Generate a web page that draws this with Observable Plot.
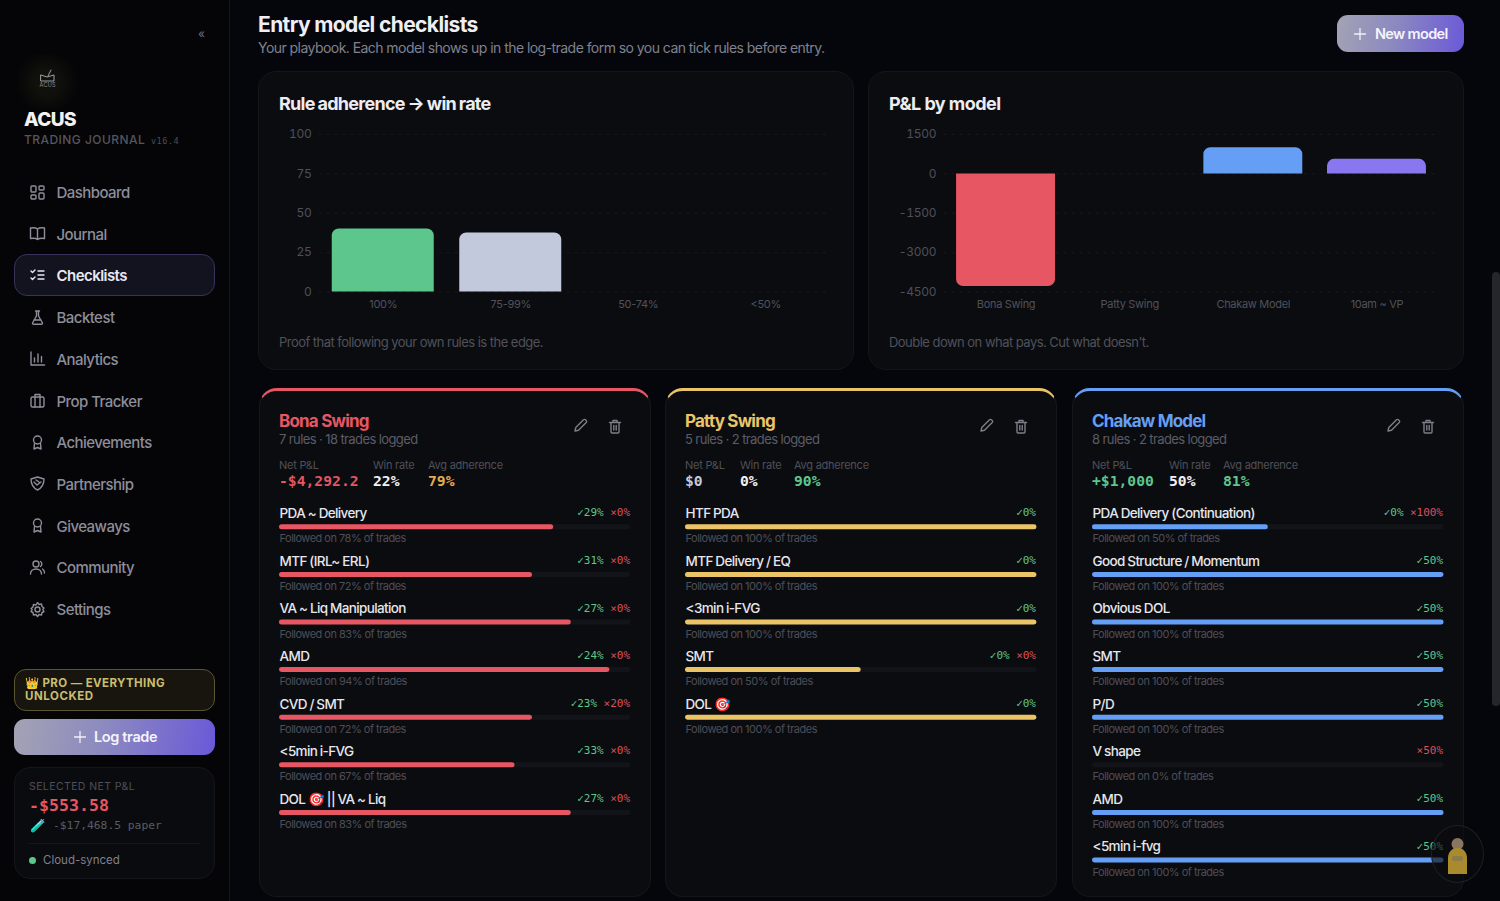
<!DOCTYPE html>
<html><head><meta charset="utf-8">
<script src="https://cdn.jsdelivr.net/npm/d3@7"></script>
<script src="https://cdn.jsdelivr.net/npm/@observablehq/plot@0.6"></script>
<style>
html,body{margin:0;padding:0;width:1500px;height:901px;overflow:hidden;background:#05060c;font-family:Inter,sans-serif;color:#e8e8ee}
.a{position:absolute;white-space:nowrap;line-height:1}
.box{position:absolute;box-sizing:border-box}
svg.ic{position:absolute;fill:none;stroke:currentColor;stroke-width:1.4;stroke-linecap:round;stroke-linejoin:round}
#main{position:absolute;left:0;top:0;width:1500px;height:901px;overflow:hidden}
.plot{position:absolute}
.ruleName text{letter-spacing:-.62px;word-spacing:-.4px}
.followedNote text{letter-spacing:-.5px}
.tight text{letter-spacing:-.3px}
</style></head><body>
<div id="main"></div>
<script>
// ---------- chart data ----------
const adherenceBuckets = ["100%", "75-99%", "50-74%", "<50%"];
const adherenceWinRate = [40, 37.5, 0, 0];
const adherenceColors = ["#5dc68c", "#c3c9dc", "#5dc68c", "#c3c9dc"];
const adherenceTicks = [0, 25, 50, 75, 100];

const modelNames = ["Bona Swing", "Patty Swing", "Chakaw Model", "10am ~ VP"];
const modelPnl = [-4292.2, 0, 1000, 553];
const modelColors = ["#e75663", "#ecc468", "#659ef5", "#8878f0"];
const pnlTicks = [-4500, -3000, -1500, 0, 1500];

const bonaRules = ["PDA ~ Delivery", "MTF (IRL~ ERL)", "VA ~ Liq Manipulation", "AMD", "CVD / SMT", "<5min i-FVG", "DOL 🎯 || VA ~ Liq"];
const bonaFollowed = [78, 72, 83, 94, 72, 67, 83];
const bonaWins = [29, 31, 27, 24, 23, 33, 27];
const bonaLosses = [0, 0, 0, 0, 20, 0, 0];

const pattyRules = ["HTF PDA", "MTF Delivery / EQ", "<3min i-FVG", "SMT", "DOL 🎯"];
const pattyFollowed = [100, 100, 100, 50, 100];
const pattyWins = [0, 0, 0, 0, 0];
const pattyLosses = [null, null, null, 0, null];

const chakawRules = ["PDA Delivery (Continuation)", "Good Structure / Momentum", "Obvious DOL", "SMT", "P/D", "V shape", "AMD", "<5min i-fvg"];
const chakawFollowed = [50, 100, 100, 100, 100, 0, 100, 100];
const chakawWins = [0, 50, 50, 50, 50, null, 50, 50];
const chakawLosses = [100, null, null, null, null, 50, null, null];

const navItems = ["Dashboard", "Journal", "Checklists", "Backtest", "Analytics", "Prop Tracker", "Achievements", "Partnership", "Giveaways", "Community", "Settings"];

// ---------- helpers ----------
const main = document.getElementById("main");
function add(html){const t=document.createElement("template");t.innerHTML=html.trim();const n=t.content.firstChild;main.appendChild(n);return n;}
function text(x,yc,s,style=""){return add(`<div class="a" style="left:${x}px;top:${yc}px;transform:translateY(-50%);${style}">${s}</div>`);}
function place(svg,x,y){svg.classList.add("plot");svg.style.left=x+"px";svg.style.top=y+"px";main.appendChild(svg);}
const grad="linear-gradient(100deg,#a3a3b4 0%,#8c89c0 45%,#6a59d8 100%)";
const plusIcon=(x,y)=>add(`<svg class="ic" style="left:${x}px;top:${y}px;color:#f0f0f8;stroke-width:1.3" width="12" height="12" viewBox="0 0 12 12"><path d="M6 .5v11M.5 6h11"/></svg>`);

// backdrop
add(`<div class="box" style="left:0;top:0;width:230px;height:901px;background:#050507;border-right:1px solid #15161c"></div>`);
add(`<div class="box" style="left:1492px;top:272px;width:8px;height:434px;background:#25262c;border-radius:4px"></div>`);

// ---------- sidebar ----------
text(198,34,"«","color:#6d6d78;font-size:12px");
add(`<div class="box" style="left:16px;top:54px;width:62px;height:56px;border-radius:16px;background:radial-gradient(circle,#11110c 25%,rgba(5,5,7,0) 75%)"></div>`);
add(`<svg class="ic" style="left:39px;top:69px;color:#a0a0a4;stroke-width:1" width="17" height="14" viewBox="0 0 17 14"><path d="M2 6l6 2 7-2v6H2zM9 7l3-6"/></svg>`);
text(39.5,86,"ACUS","font-size:5.5px;color:#8f8f94;letter-spacing:.3px");
text(24,119,"ACUS","font-size:19px;font-weight:800;color:#f2f2f2;letter-spacing:-.6px");
text(24,140,"TRADING JOURNAL","font-size:12px;font-weight:500;color:#55565e;letter-spacing:.45px");
text(151,141,"v16.4","font-size:8.5px;color:#4d4e56;font-family:'DejaVu Sans Mono';letter-spacing:.5px");

add(`<div class="box" style="left:14px;top:254px;width:201px;height:42px;border-radius:13px;background:#13121f;border:1px solid #37335c"></div>`);
const navY=[192,233.5,275,317,358.5,400.5,442,483.5,525.5,567,609];
const navIcons=[
'<rect x="2" y="2" width="5" height="6" rx="1"/><rect x="10" y="2" width="5" height="4" rx="1"/><rect x="10" y="9" width="5" height="6" rx="1"/><rect x="2" y="11" width="5" height="4" rx="1"/>',
'<path d="M8.5 4C7 2.8 4 2.5 1.5 3v10.5c2.5-.5 5.5-.2 7 1 1.5-1.2 4.5-1.5 7-1V3c-2.5-.5-5.5-.2-7 1zM8.500 4v10.500"/>',
'<path d="M2 4l1.500 1.500L6 3M2 11l1.500 1.500L6 10M9 4h6M9 8h6M9 12h6"/>',
'<path d="M6.500 2h4M7.500 2v5L3.500 14a1 1 0 0 0 1 1.200h8a1 1 0 0 0 1-1.200L9.500 7V2M5 11h7"/>',
'<path d="M2 2v13h13.500M5.500 12V8M9 12V4M12.500 12V6.500"/>',
'<rect x="2" y="5" width="13" height="10" rx="1.500"/><path d="M6 5V2.500h5V5M6 5v10M11 5v10"/>',
'<circle cx="8.500" cy="6" r="4"/><path d="M5.500 9.500L5 15l3.500-1.500L12 15l-.5-5.500"/>',
'<path d="M2 4l6.500-2L15 4c0 6-2.500 9-6.500 11C4.500 13 2 10 2 4zM5 7l3 3 4-3M7 5l3 2"/>',
'<circle cx="8.500" cy="6" r="4"/><path d="M5.500 9.500L5 15l3.500-1.500L12 15l-.5-5.500"/>',
'<circle cx="7" cy="5" r="3"/><path d="M1.500 15c0-3 2.500-5 5.500-5s5.500 2 5.500 5M11.500 2.500a3 3 0 0 1 0 5M13.500 10c1.300.8 2 2.500 2 4"/>',
'<circle cx="8.500" cy="8.500" r="2.500"/><path d="M8.500 1.500l1.500 2 2.500-.5.500 2.500 2 1.500-1.200 1.500 1.200 2-2 1-.5 2.500-2.500-.5-1.500 2-1.500-2-2.500.5-.5-2.500-2-1 1.200-2L2 7.500 4 6l.5-2.500L7 4z"/>'
];
navItems.forEach((n,i)=>{
  const on=i===2, c=on?"#e9e9f2":"#8e8e9b";
  text(56.5,navY[i],n,`font-size:15px;font-weight:${on?600:500};color:${c};letter-spacing:-.55px`);
  add(`<svg class="ic" style="left:29px;top:${navY[i]-8.5}px;color:${c}" width="17" height="17" viewBox="0 0 17 17">${navIcons[i]}</svg>`);
});

add(`<div class="box" style="left:14px;top:669px;width:201px;height:42px;border-radius:12px;background:#17150e;border:1px solid #5b5531"></div>`);
text(25,683.5,"👑 PRO — EVERYTHING","font-size:11.500px;font-weight:700;color:#c9bd70;letter-spacing:.4px");
text(25,696.5,"UNLOCKED","font-size:11.500px;font-weight:700;color:#c9bd70;letter-spacing:.55px");
add(`<div class="box" style="left:14px;top:719px;width:201px;height:36px;border-radius:11px;background:${grad}"></div>`);
plusIcon(74,731);
text(94,737,"Log trade","font-size:14.500px;font-weight:600;color:#f4f4fa;letter-spacing:-.35px");
add(`<div class="box" style="left:14px;top:767px;width:201px;height:112px;border-radius:16px;background:#0a0b0e;border:1px solid #15161b"></div>`);
text(29,787,"SELECTED NET P&amp;L","font-size:10.500px;color:#4f5058;letter-spacing:.4px");
text(29,806,"-$553.58","font-size:16.600px;font-weight:700;color:#e55562;font-family:'DejaVu Sans Mono'");
text(30,825,"🧪","font-size:13px;color:#6cc070");
text(53,826,"-$17,468.5 paper","font-size:11.300px;color:#5a5b64;font-family:'DejaVu Sans Mono'");
add(`<div class="box" style="left:29px;top:843px;width:171px;height:1px;background:#15161b"></div>`);
add(`<div class="box" style="left:29px;top:857px;width:7px;height:7px;border-radius:50%;background:#5dc68c"></div>`);
text(43,860.5,"Cloud-synced","font-size:11.500px;color:#80808c");

// ---------- header ----------
text(258,24,"Entry model checklists","font-size:21px;font-weight:700;color:#eeeef3;letter-spacing:-.62px");
text(258,47.5,"Your playbook. Each model shows up in the log-trade form so you can tick rules before entry.","font-size:14px;color:#80818c;letter-spacing:-.55px");
add(`<div class="box" style="left:1337px;top:15px;width:127px;height:37px;border-radius:11px;background:${grad}"></div>`);
plusIcon(1354,27.5);
text(1375,33.500,"New model","font-size:14.500px;font-weight:600;color:#f4f4fa;letter-spacing:-.65px");

// ---------- top chart cards ----------
const cardStyle="background:#0b0c10;border:1px solid #15161c;border-radius:18px";
add(`<div class="box" style="left:258px;top:71px;width:596px;height:299px;${cardStyle}"></div>`);
add(`<div class="box" style="left:868px;top:71px;width:596px;height:299px;${cardStyle}"></div>`);
text(279,104,"Rule adherence → win rate","font-size:18px;font-weight:700;color:#ececf2;letter-spacing:-.72px;word-spacing:-.8px");
text(889,104,"P&amp;L by model","font-size:18px;font-weight:700;color:#ececf2;letter-spacing:-.55px");
text(279,342,"Proof that following your own rules is the edge.","font-size:13px;color:#50515a;letter-spacing:-.53px");
text(889,342,"Double down on what pays. Cut what doesn't.","font-size:13px;color:#50515a;letter-spacing:-.53px");

function barChart(cats,vals,cols,ticks,domain,marginLeft,marginRight){
  const rows=cats.map((c,i)=>({c,v:vals[i]}));
  const pos=rows.filter(d=>d.v>0), neg=rows.filter(d=>d.v<0);
  return Plot.plot({
    width:596,height:200,marginLeft,marginRight,marginTop:14,marginBottom:28.5,
    style:{background:"transparent",fontFamily:"Inter,sans-serif"},
    x:{domain:cats,paddingInner:.2,paddingOuter:.1,round:false,label:null},
    y:{domain,ticks:ticks,label:null},
    color:{domain:cats,range:cols},
    marks:[
      Plot.ruleY(ticks,{stroke:"#17181d",strokeDasharray:"3,5",strokeWidth:1}),
      Plot.axisY({ticks,tickSize:0,tickPadding:8,fontSize:12,color:"#4e4f58",stroke:"none",label:null,tickFormat:d=>String(d),className:"tight"}),
      Plot.axisX({tickSize:0,tickPadding:8,fontSize:11,color:"#50515a",stroke:"none",label:null,className:"tight"}),
      Plot.barY(pos,{x:"c",y1:0,y2:"v",fill:"c",rx1y1:7,rx2y1:7}),
      Plot.barY(neg,{x:"c",y1:0,y2:"v",fill:"c",rx1y2:7,rx2y2:7})
    ]
  });
}
place(barChart(adherenceBuckets,adherenceWinRate,adherenceColors,adherenceTicks,[0,100],61,25),258,120);
place(barChart(modelNames,modelPnl,modelColors,pnlTicks,[-4500,1500],75.7,25.7),868,120);

// ---------- model cards ----------
function card(o){
  const L=o.left,W=392;
  add(`<div class="box" style="left:${L}px;top:388px;width:${W}px;height:509px;background:#0b0c10;border:1px solid #15161c;border-top:3px solid ${o.color};border-radius:18px"></div>`);
  const x=L+20;
  text(x,421,o.name,`font-size:17px;font-weight:700;color:${o.color};letter-spacing:-.8px`);
  text(x,439,o.sub,"font-size:13px;color:#5b5c66;letter-spacing:-.6px");
  o.stats.forEach(s=>{
    text(L+s.dx,465,s.label,"font-size:11px;color:#4f5058;letter-spacing:-.25px");
    text(L+s.dx,481,s.value,`font-size:14.700px;font-weight:700;color:${s.color};font-family:'DejaVu Sans Mono'`);
  });
  add(`<svg class="ic" style="left:${L+314}px;top:418px;color:#7d7e88" width="15" height="15" viewBox="0 0 15 15"><path d="M2 13l.8-3.500L10.500 1.800a1.300 1.300 0 0 1 2 0l.7.7a1.300 1.300 0 0 1 0 2L5.500 12.200z"/></svg>`);
  add(`<svg class="ic" style="left:${L+349}px;top:418.500px;color:#7d7e88" width="14" height="15" viewBox="0 0 14 15"><path d="M1.500 3.500h11M5 3.500V1.500h4v2M3 3.500V13a1 1 0 0 0 1 1h6a1 1 0 0 0 1-1V3.500M5.800 6.500v4.500M8.200 6.500v4.500"/></svg>`);
  const rows=o.rules.map((r,i)=>({r,f:o.followed[i],w:o.wins[i],l:o.losses[i]}));
  const n=rows.length, lossLabel=d=>`×${d.l}%`, winLabel=d=>`✓${d.w}%`;
  const mono={fontFamily:"DejaVu Sans Mono",fontSize:11,fontWeight:500,textAnchor:"end"};
  const plot=Plot.plot({
    width:352,height:n*47.6,margin:0,axis:null,
    style:{background:"transparent",fontFamily:"Inter,sans-serif",overflow:"visible"},
    x:{domain:[0,100],range:[0,351.5]},
    y:{type:"band",domain:o.rules,range:[0,n*47.6],paddingInner:.895,paddingOuter:.4475,round:false},
    marks:[
      Plot.barX(rows,{x1:()=>0,x2:()=>100,y:"r",fill:"#131419",r:2.5}),
      Plot.barX(rows.filter(d=>d.f>0),{x1:()=>0,x2:"f",y:"r",fill:o.color,r:2.5}),
      Plot.text(rows,{x:()=>0,y:"r",text:"r",dy:-13.5,textAnchor:"start",fill:"#e6e6ec",fontSize:13.5,fontWeight:500,className:"ruleName"}),
      Plot.text(rows,{x:()=>0,y:"r",text:d=>`Followed on ${d.f}% of trades`,dy:11.500,textAnchor:"start",fill:"#4d4e58",fontSize:11,className:"followedNote"}),
      Plot.text(rows.filter(d=>d.l!==null),{x:()=>100,y:"r",text:lossLabel,dy:-14.500,dx:-1,fill:"#d9505e",...mono}),
      ...rows.filter(d=>d.w!==null).map(d=>Plot.text([d],{x:()=>100,y:"r",text:winLabel,dy:-14.500,dx:d.l===null?-1:-(lossLabel(d).length*6.600+7.500),fill:"#5dc68c",...mono}))
    ]
  });
  place(plot,x,502.700);
}
card({left:259,name:"Bona Swing",color:"#e75663",sub:"7 rules · 18 trades logged",rules:bonaRules,followed:bonaFollowed,wins:bonaWins,losses:bonaLosses,
  stats:[{dx:20,label:"Net P&amp;L",value:"-$4,292.2",color:"#e55562"},{dx:114,label:"Win rate",value:"22%",color:"#f0f0f5"},{dx:169,label:"Avg adherence",value:"79%",color:"#e8a94f"}]});
card({left:665,name:"Patty Swing",color:"#ecc468",sub:"5 rules · 2 trades logged",rules:pattyRules,followed:pattyFollowed,wins:pattyWins,losses:pattyLosses,
  stats:[{dx:20,label:"Net P&amp;L",value:"$0",color:"#c3c9dc"},{dx:75,label:"Win rate",value:"0%",color:"#f0f0f5"},{dx:129,label:"Avg adherence",value:"90%",color:"#5dc68c"}]});
card({left:1072,name:"Chakaw Model",color:"#659ef5",sub:"8 rules · 2 trades logged",rules:chakawRules,followed:chakawFollowed,wins:chakawWins,losses:chakawLosses,
  stats:[{dx:20,label:"Net P&amp;L",value:"+$1,000",color:"#5dc68c"},{dx:97,label:"Win rate",value:"50%",color:"#f0f0f5"},{dx:151,label:"Avg adherence",value:"81%",color:"#5dc68c"}]});

// floating avatar
add(`<div class="box" style="left:1431px;top:825px;width:53px;height:58px;border-radius:50%;background:rgba(12,12,14,.62);border:1px solid #1e1f24"></div>`);
add(`<svg style="position:absolute;left:1444px;top:836px" width="27" height="40" viewBox="0 0 27 40"><circle cx="13.500" cy="8" r="6" fill="#8a7660"/><path d="M4 38V22c0-6 4-10 9.500-10S23 16 23 22v16z" fill="#a98a2c"/><rect x="8" y="20" width="11" height="5" rx="2" fill="#8c7a4a"/></svg>`);
</script>
</body></html>
